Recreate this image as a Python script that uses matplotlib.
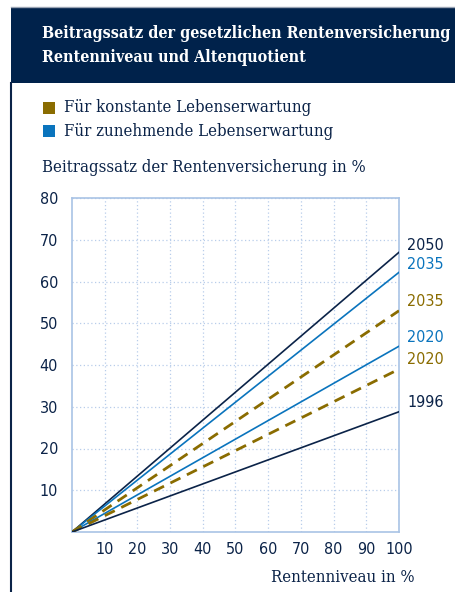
import numpy as np
import matplotlib
matplotlib.use('Agg')
import matplotlib.pyplot as plt
from matplotlib.patches import Rectangle
from matplotlib.lines import Line2D

# --- data: Beitragssatz (%) bei 100 % Rentenniveau, Linien gehen durch den Ursprung ---
rentenniveau = [0, 100]
jahre = ['2050', '2035', '2035', '2020', '2020', '1996']
szenario = ['basis', 'zunehmend', 'konstant', 'zunehmend', 'konstant', 'basis']
beitrag_bei_100 = [67.0, 62.2, 53.0, 44.5, 39.0, 28.8]

x_ticks = [10, 20, 30, 40, 50, 60, 70, 80, 90, 100]
y_ticks = [10, 20, 30, 40, 50, 60, 70, 80]

navy = '#0b2348'
blue = '#0a74bd'
gold = '#8a6c00'
grid_c = '#b8cdea'

W, H = 456, 592
serif = 'DejaVu Serif'
sans = 'DejaVu Sans'
fs_txt = 12

def fx(x):
    return x / W

def fy(y):
    return 1 - y / H

fig = plt.figure(figsize=(W / 100, H / 100), dpi=100)

# frame and header
fig.add_artist(Line2D([fx(11), 1], [fy(7), fy(7)], color='#9aa4b4', lw=1))
fig.add_artist(Line2D([fx(11.5), fx(11.5)], [fy(83), 0], color=navy, lw=1.5))
fig.add_artist(Rectangle((fx(11), fy(83)), 1 - fx(11), fy(8) - fy(83), color='#00224b', lw=0))
fig.text(fx(42), fy(33), 'Beitragssatz der gesetzlichen Rentenversicherung', color='white',
         fontsize=11.55, fontweight='bold', family=serif, fontstretch='condensed', va='center')
fig.text(fx(42), fy(58), 'Rentenniveau und Altenquotient', color='white',
         fontsize=11.55, fontweight='bold', family=serif, fontstretch='condensed', va='center')

# legend
fig.add_artist(Rectangle((fx(43), fy(114)), fx(12), fy(102) - fy(114), color=gold, lw=0))
fig.add_artist(Rectangle((fx(43), fy(137)), fx(12), fy(125) - fy(137), color=blue, lw=0))
fig.text(fx(64), fy(108), 'Für konstante Lebenserwartung', color=navy, fontsize=fs_txt,
         family=serif, fontstretch='condensed', va='center')
fig.text(fx(64), fy(131), 'Für zunehmende Lebenserwartung', color=navy, fontsize=fs_txt,
         family=serif, fontstretch='condensed', va='center')
fig.text(fx(42), fy(168), 'Beitragssatz der Rentenversicherung in %', color=navy, fontsize=fs_txt,
         family=serif, fontstretch='condensed', va='center')

ax = fig.add_axes([fx(72), fy(532), fx(399) - fx(72), fy(198) - fy(532)])

farben = {'basis': navy, 'zunehmend': blue, 'konstant': gold}
for j, s, v in zip(jahre, szenario, beitrag_bei_100):
    if s == 'konstant':
        ax.plot(rentenniveau, [0, v], color=farben[s], lw=2, dashes=(4, 2.6), zorder=3)
    else:
        ax.plot(rentenniveau, [0, v], color=farben[s], lw=1.2, zorder=3)

# Jahreszahlen rechts neben den Linien
label_y = [68.7, 64.0, 55.1, 46.7, 41.4, 30.9]
for j, s, ly in zip(jahre, szenario, label_y):
    ax.text(1.025, ly, j, color=farben[s], fontsize=11.5, family=sans, fontstretch='condensed',
            va='center', ha='left', transform=ax.get_yaxis_transform())

ax.set_xlim(0, 100)
ax.set_ylim(0, 80)
ax.set_xticks(x_ticks)
ax.set_yticks(y_ticks)
ax.set_xticklabels([str(t) for t in x_ticks], family=sans, fontstretch='condensed')
ax.set_yticklabels([str(t) for t in y_ticks], family=sans, fontstretch='condensed')
ax.tick_params(length=0, labelsize=11.5, labelcolor=navy)
ax.tick_params(axis='x', pad=7)
ax.tick_params(axis='y', pad=10)
ax.grid(True, color=grid_c, ls=(0, (1, 2)), lw=0.9)
for sp in ax.spines.values():
    sp.set_color('#a9c3e5')
    sp.set_linewidth(1.2)

fig.text(fx(415), fy(577), 'Rentenniveau in %', color=navy, fontsize=fs_txt,
         family=serif, fontstretch='condensed', va='center', ha='right')

fig.savefig('out.png', dpi=100)
